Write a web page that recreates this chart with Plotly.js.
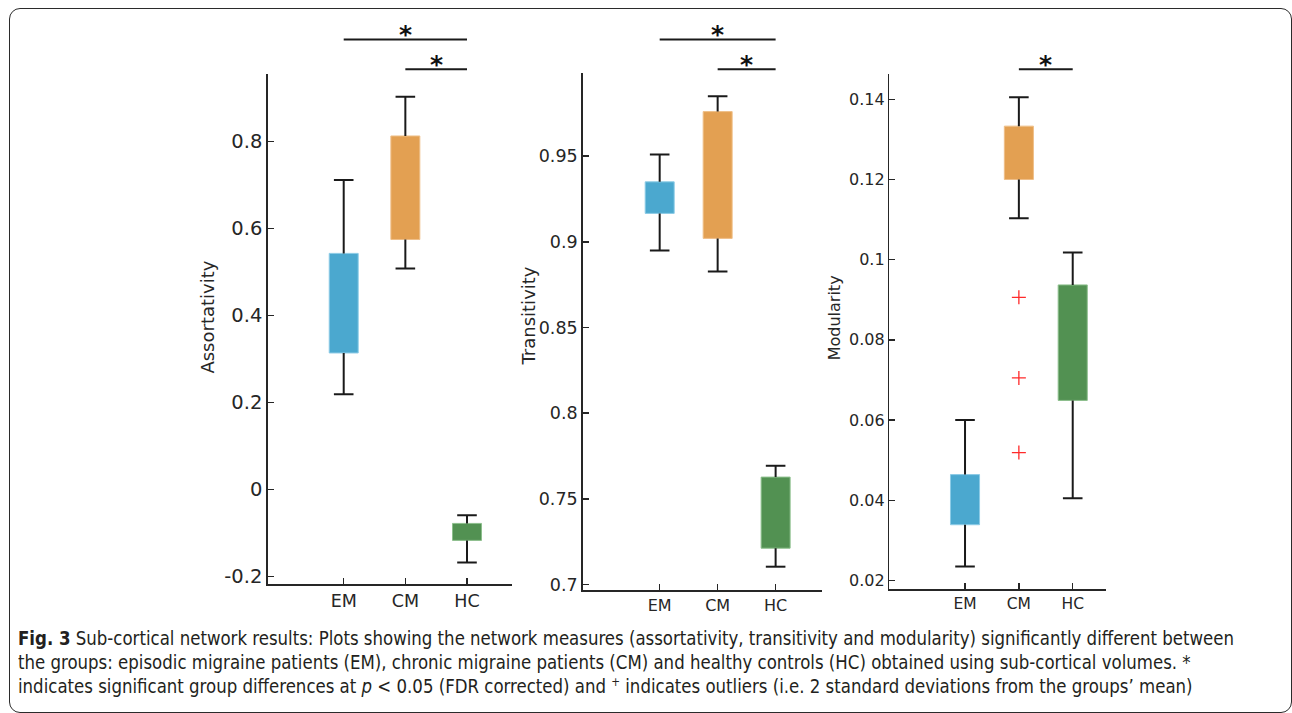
<!DOCTYPE html>
<html>
<head>
<meta charset="utf-8">
<script src="https://cdn.plot.ly/plotly-3.0.1.min.js"></script>
<style>
html,body{margin:0;padding:0;background:#ffffff;}
#wrap{position:relative;width:1292px;height:713px;overflow:hidden;background:#fff;}
#chart{position:absolute;left:0;top:0;width:1292px;height:713px;}
#frame{position:absolute;left:9px;top:8px;width:1283px;height:705px;box-sizing:border-box;border:1.6px solid #2b2b2b;border-radius:11px;pointer-events:none;}
#caption{position:absolute;left:18px;top:626px;font-family:"Liberation Sans Narrow","DejaVu Sans Condensed","Liberation Sans","Noto Sans",sans-serif;font-size:19px;line-height:24px;color:#231f20;white-space:nowrap;transform-origin:0 0;}
#caption div{height:24px;}
</style>
</head>
<body>
<div id="wrap">
  <div id="chart"></div>
  <div id="frame"></div>
  <div id="caption">
    <div id="cap1"><b>Fig. 3</b> Sub-cortical network results: Plots showing the network measures (assortativity, transitivity and modularity) significantly different between</div>
    <div id="cap2">the groups: episodic migraine patients (EM), chronic migraine patients (CM) and healthy controls (HC) obtained using sub-cortical volumes. *</div>
    <div id="cap3">indicates significant group differences at <i>p</i> &lt; 0.05 (FDR corrected) and <sup style="font-size:12px;line-height:0;">+</sup> indicates outliers (i.e. 2 standard deviations from the groups’ mean)</div>
  </div>
</div>
<script>
// ---------- data ----------
const groups = ['EM', 'CM', 'HC'];
const groupPos = [1, 2, 3];

// Assortativity
const assortLow  = [0.219, 0.508, -0.168];
const assortQ1   = [0.314, 0.575, -0.117];
const assortQ3   = [0.543, 0.813, -0.078];
const assortHigh = [0.712, 0.903, -0.059];
const assortTickVals = [-0.2, 0, 0.2, 0.4, 0.6, 0.8];
const assortTickText = ['-0.2', '0', '0.2', '0.4', '0.6', '0.8'];
const assortSig = [[1, 3], [2, 3]];

// Transitivity
const transLow  = [0.895, 0.8827, 0.7104];
const transQ1   = [0.9166, 0.902, 0.7212];
const transQ3   = [0.935, 0.976, 0.7627];
const transHigh = [0.951, 0.985, 0.7693];
const transTickVals = [0.7, 0.75, 0.8, 0.85, 0.9, 0.95];
const transTickText = ['0.7', '0.75', '0.8', '0.85', '0.9', '0.95'];
const transSig = [[1, 3], [2, 3]];

// Modularity
const modLow  = [0.0235, 0.1103, 0.0405];
const modQ1   = [0.0339, 0.1200, 0.0649];
const modQ3   = [0.0464, 0.1333, 0.0937];
const modHigh = [0.0600, 0.1405, 0.1018];
const modOutlierGroup = [2, 2, 2];
const modOutliers = [0.0906, 0.0705, 0.0519];
const modTickVals = [0.02, 0.04, 0.06, 0.08, 0.1, 0.12, 0.14];
const modTickText = ['0.02', '0.04', '0.06', '0.08', '0.1', '0.12', '0.14'];
const modSig = [[2, 3]];

// ---------- style ----------
const W = 1292, H = 713;
const fillColors = ['#4BA8CF', '#E3A052', '#529152'];
const edgeColors = ['#8ccbe6', '#efbf88', '#8cbf8c'];
const inkColor = '#262626';
const whiskerColor = '#1a1a1a';
const FONT = 'DejaVu Sans, sans-serif';

const panels = [
  {n: 1, low: assortLow, q1: assortQ1, q3: assortQ3, high: assortHigh,
   tickVals: assortTickVals, tickText: assortTickText, sig: assortSig,
   left: 267.7, right: 512, top: 73.8, bottom: 584.3,
   xRange: [-0.233, 3.73], yRange: [-0.218, 0.956], boxW: 0.47,
   yFont: 19.5, xFont: 17.5, title: 'Assortativity', titleSize: 18, titleX: 207.2, titleY: 317.4},
  {n: 2, low: transLow, q1: transQ1, q3: transQ3, high: transHigh,
   tickVals: transTickVals, tickText: transTickText, sig: transSig,
   left: 582.7, right: 822, top: 72.7, bottom: 590,
   xRange: [-0.328, 3.80], yRange: [0.6968, 0.9987], boxW: 0.5,
   yFont: 17.5, xFont: 16, title: 'Transitivity', titleSize: 18, titleX: 527.5, titleY: 316},
  {n: 3, low: modLow, q1: modQ1, q3: modQ3, high: modHigh,
   tickVals: modTickVals, tickText: modTickText, sig: modSig,
   outX: modOutlierGroup, outY: modOutliers,
   left: 889.3, right: 1106, top: 73.6, bottom: 589.3,
   xRange: [-0.406, 3.618], yRange: [0.0178, 0.1464], boxW: 0.54,
   yFont: 16, xFont: 15.5, title: 'Modularity', titleSize: 16, titleX: 835.3, titleY: 318}
];
const sigLevelY = [69.3, 39.5];   // pixel rows of significance bars (lower, upper)

const traces = [];
const layout = {
  width: W, height: H,
  margin: {l: 0, r: 0, t: 0, b: 0},
  paper_bgcolor: 'rgba(0,0,0,0)', plot_bgcolor: 'rgba(0,0,0,0)',
  showlegend: false,
  font: {family: FONT, color: inkColor},
  shapes: [], annotations: []
};

panels.forEach(p => {
  const xa = p.n === 1 ? 'x' : 'x' + p.n;
  const ya = p.n === 1 ? 'y' : 'y' + p.n;
  const xKey = p.n === 1 ? 'xaxis' : 'xaxis' + p.n;
  const yKey = p.n === 1 ? 'yaxis' : 'yaxis' + p.n;

  // boxes (interquartile range)
  traces.push({
    type: 'bar', x: groupPos, y: p.q3.map((v, i) => v - p.q1[i]), base: p.q1,
    width: p.boxW, xaxis: xa, yaxis: ya, hoverinfo: 'skip',
    marker: {color: fillColors, line: {color: edgeColors, width: 1}}
  });
  // whiskers
  const wx = [], wy = [];
  groupPos.forEach((x, i) => {
    wx.push(x, x, null, x, x, null);
    wy.push(p.q3[i], p.high[i], null, p.q1[i], p.low[i], null);
  });
  traces.push({type: 'scatter', mode: 'lines', x: wx, y: wy, xaxis: xa, yaxis: ya,
    line: {color: whiskerColor, width: 2}, hoverinfo: 'skip'});
  // whisker caps
  traces.push({type: 'scatter', mode: 'markers', x: groupPos.concat(groupPos), y: p.high.concat(p.low),
    xaxis: xa, yaxis: ya, hoverinfo: 'skip',
    marker: {symbol: 'line-ew', size: 14, color: whiskerColor, line: {color: whiskerColor, width: 2}}});
  // outliers
  if (p.outY) {
    traces.push({type: 'scatter', mode: 'markers', x: p.outX, y: p.outY, xaxis: xa, yaxis: ya,
      hoverinfo: 'skip', cliponaxis: false,
      marker: {symbol: 'cross-thin', size: 10, color: '#ff2a2a', line: {color: '#ff2a2a', width: 1.3}}});
  }

  layout[xKey] = {
    domain: [p.left / W, p.right / W], range: p.xRange, anchor: ya,
    tickmode: 'array', tickvals: groupPos, ticktext: groups,
    ticks: 'inside', ticklen: 6, tickwidth: 1.5, tickcolor: inkColor,
    showline: true, linecolor: inkColor, linewidth: 1.5,
    showgrid: false, zeroline: false, fixedrange: true,
    tickfont: {family: FONT, size: p.xFont, color: inkColor}
  };
  layout[yKey] = {
    domain: [1 - p.bottom / H, 1 - p.top / H], range: p.yRange, anchor: xa,
    tickmode: 'array', tickvals: p.tickVals, ticktext: p.tickText,
    ticks: 'inside', ticklen: 6, tickwidth: 1.5, tickcolor: inkColor,
    showline: true, linecolor: inkColor, linewidth: 1.5,
    showgrid: false, zeroline: false, fixedrange: true,
    tickfont: {family: FONT, size: p.yFont, color: inkColor}
  };
  // axis title
  layout.annotations.push({
    text: p.title, xref: 'paper', yref: 'paper', x: p.titleX / W, y: 1 - p.titleY / H,
    xanchor: 'center', yanchor: 'middle', textangle: -90, showarrow: false,
    font: {family: FONT, size: p.titleSize, color: inkColor}
  });
  // significance bars
  p.sig.forEach((pair, k) => {
    const yPix = sigLevelY[p.sig.length - 1 - k];
    layout.shapes.push({type: 'line', xref: xa, yref: 'paper',
      x0: pair[0], x1: pair[1], y0: 1 - yPix / H, y1: 1 - yPix / H,
      line: {color: '#1a1a1a', width: 2}});
    layout.annotations.push({text: '*', xref: xa, yref: 'paper',
      x: (pair[0] + pair[1]) / 2, y: 1 - yPix / H, xanchor: 'center', yanchor: 'middle',
      yshift: 5, showarrow: false,
      font: {family: FONT, size: 25, weight: 'bold', color: '#111111'}});
  });
});

Plotly.newPlot('chart', traces, layout, {displayModeBar: false, staticPlot: true}).then(() => {
  // fit caption to the reference's line width
  const cap = document.getElementById('caption');
  const l1 = document.getElementById('cap1');
  const range = document.createRange();
  range.selectNodeContents(l1);
  const w = range.getBoundingClientRect().width;
  const target = 1216;
  if (w > 0) cap.style.transform = 'scaleX(' + (target / w) + ')';
});
</script>
</body>
</html>
